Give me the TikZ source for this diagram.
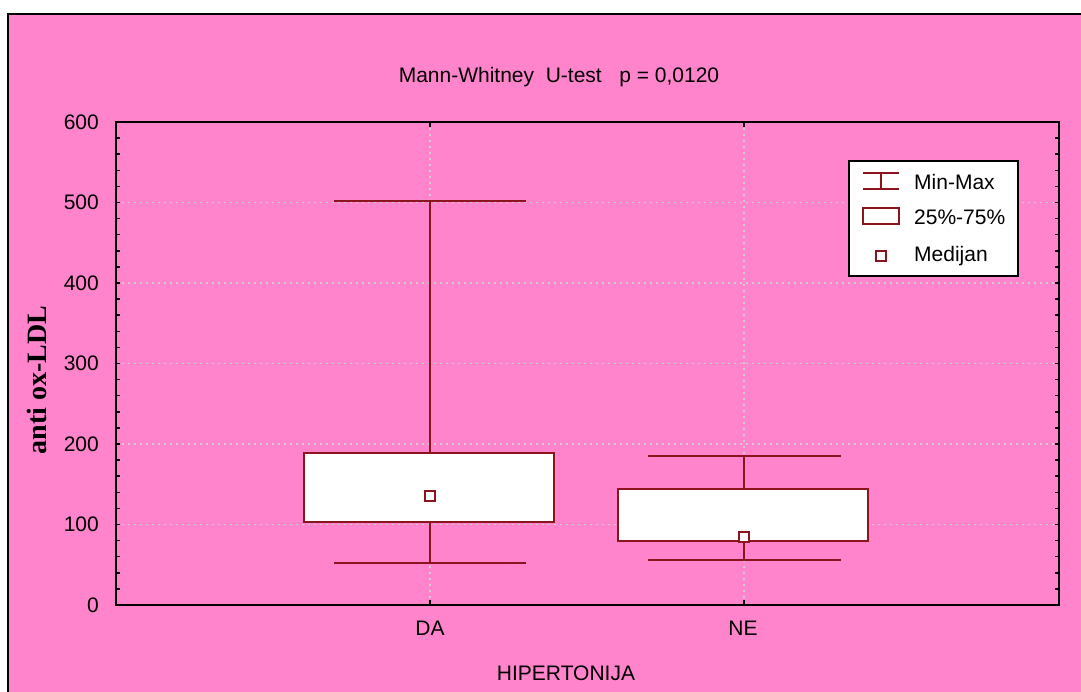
\documentclass[tikz,border=0pt]{standalone}
\usepackage{fontspec}
\setmainfont{Liberation Sans}
\newfontfamily\serifbold{Liberation Serif}
\definecolor{pinkbg}{RGB}{255,132,204}
\definecolor{dred}{RGB}{140,20,30}
\definecolor{gridc}{RGB}{205,205,205}
\tikzset{
  txt/.style={inner sep=0pt, font=\fontsize{21}{24}\selectfont},
  redline/.style={draw=dred, line width=2pt},
  redbox/.style={draw=dred, fill=white, line width=2pt},
  gridline/.style={draw=gridc, line width=1.6pt, dash pattern=on 1.6pt off 4.4pt},
  axisline/.style={draw=black, line width=2pt},
  tickline/.style={draw=black, line width=1.5pt},
  medsq/.style={draw=dred, fill=white, line width=1.8pt, minimum size=10pt, inner sep=0pt, shape=rectangle}
}
\begin{document}
\begin{tikzpicture}[x=1pt,y=-1pt]
\useasboundingbox (0,0) rectangle (1081,692);
% background frame
\fill[pinkbg] (8,14) rectangle (1081,692);
\draw[line width=2pt] (8,692) -- (8,14) -- (1081,14);
% title
\node[txt] (title) at (559,77) {Mann-Whitney\ \ U-test\ \ \ p = 0,0120};
% grid
\foreach \v in {100,200,300,400,500}{
  \draw[gridline] (116,{605-0.805*\v}) -- (1059,{605-0.805*\v});
}
\foreach \xx in {430,744}{
  \draw[gridline] (\xx,122) -- (\xx,605);
}
% DA box plot
\draw[redline] (430,201) -- (430,453);
\draw[redline] (430,522) -- (430,563);
\draw[redline] (334,201) -- (526,201);
\draw[redline] (334,563) -- (526,563);
\draw[redbox] (304,453) rectangle (554,522);
\node[medsq] (medDA) at (430,496) {};
% NE box plot
\draw[redline] (744,456) -- (744,489);
\draw[redline] (744,541) -- (744,560);
\draw[redline] (648,456) -- (841,456);
\draw[redline] (648,560) -- (841,560);
\draw[redbox] (618,489) rectangle (868,541);
\node[medsq] (medNE) at (744,537) {};
% axes
\draw[axisline] (116,122) rectangle (1059,605);
\foreach \v in {0,20,...,600}{
  \draw[tickline] (116,{605-0.805*\v}) -- (120,{605-0.805*\v});
  \draw[tickline] (1059,{605-0.805*\v}) -- (1055,{605-0.805*\v});
}
\foreach \xx in {430,744}{
  \draw[tickline] (\xx,605) -- (\xx,600);
  \draw[tickline] (\xx,122) -- (\xx,127);
}
% y tick labels
\foreach \v in {0,100,...,600}{
  \node[txt, anchor=east] (ytl\v) at (99,{605-0.805*\v}) {\v};
}
% category labels
\node[txt] (lblDA) at (430,628) {DA};
\node[txt] (lblNE) at (743,628) {NE};
% axis titles
\node[txt] (xlab) at (566,673) {HIPERTONIJA};
\node[inner sep=0pt, rotate=90, font=\serifbold\bfseries\fontsize{28}{32}\selectfont] (ylab) at (37,380) {anti ox-LDL};
% legend
\draw[draw=black, fill=white, line width=2pt] (849,161) rectangle (1018,276);
\draw[redline] (863,173) -- (899,173);
\draw[redline] (863,189) -- (899,189);
\draw[redline] (881,173) -- (881,189);
\draw[redbox] (863,208) rectangle (899,224);
\node[medsq] (legmed) at (881,256) {};
\node[txt, anchor=west] (legA) at (914,182) {Min-Max};
\node[txt, anchor=west] (legB) at (914,217) {25\%-75\%};
\node[txt, anchor=west] (legC) at (914,256) {Medijan};
\end{tikzpicture}
\end{document}
